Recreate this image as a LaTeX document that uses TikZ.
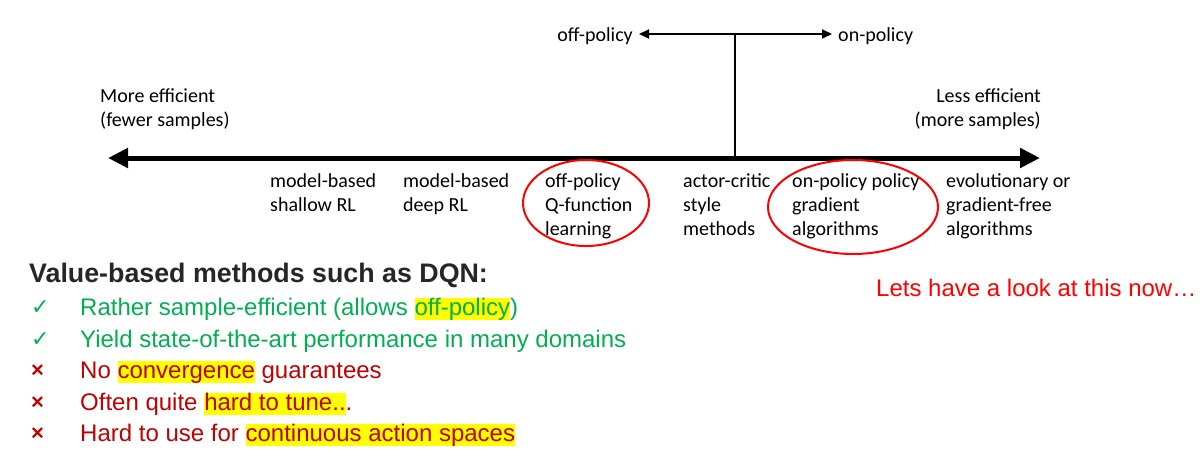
\documentclass[tikz,border=0pt]{standalone}
\usepackage{fontspec}
\usetikzlibrary{arrows.meta}
\newfontfamily\calibri{Carlito}
\newfontfamily\arial{Liberation Sans}
\newfontfamily\dejavu{DejaVu Sans}
\definecolor{okgreen}{HTML}{00B050}
\definecolor{badred}{HTML}{C00000}
\definecolor{brightred}{HTML}{FF0000}
\definecolor{hlyellow}{HTML}{FFFF00}
\definecolor{titlegray}{HTML}{262626}
\newcommand{\hlt}[1]{{\setlength{\fboxsep}{0pt}\colorbox{hlyellow}{\vphantom{Ag}#1}}}
\tikzset{
  lbl/.style={font=\calibri\fontsize{20}{24}\selectfont, anchor=base west, inner sep=0pt, align=left},
  bullettxt/.style={font=\arial\fontsize{24}{28}\selectfont, anchor=base west, inner sep=0pt},
  bulletsym/.style={anchor=base west, inner sep=0pt},
  checksym/.style={bulletsym, text=okgreen, font=\dejavu\fontsize{22}{24}\selectfont},
  crosssym/.style={bulletsym, text=badred, font=\arial\bfseries\fontsize{22}{24}\selectfont},
}
\begin{document}
\begin{tikzpicture}[x=1pt,y=-1pt]
\useasboundingbox (0,0) rectangle (1204,453);
% main axis
\coordinate (L) at (108,158);
\coordinate (R) at (1040,158);
\draw[line width=5pt, {Triangle[length=20pt,width=19pt]}-{Triangle[length=20pt,width=19pt]}] (L) -- (R);
% policy axis
\coordinate (stemtop) at (735,34);
\coordinate (stembot) at (735,156);
\draw[line width=1.8pt] (stembot) -- (stemtop);
\node[lbl, anchor=base east] (off) at (633,41) {off-policy};
\node[lbl] (on) at (838,41) {on-policy};
\coordinate (offtip) at (639,34);
\coordinate (ontip) at (832,34);
\draw[line width=2pt, {Triangle[length=10pt,width=9pt]}-{Triangle[length=10pt,width=9pt]}] (offtip) -- (ontip);
% end labels (base = last line)
\node[lbl] (more) at (100,126) {More efficient\\(fewer samples)};
\node[lbl, align=right, anchor=base east] (less) at (1041,126) {Less efficient\\(more samples)};
% categories
\node[lbl] (c1) at (270,211) {model-based\\shallow RL};
\node[lbl] (c2) at (403,211) {model-based\\deep RL};
\node[lbl] (c3) at (545,235) {off-policy\\Q-function\\learning};
\node[lbl] (c4) at (683,235) {actor-critic\\style\\methods};
\node[lbl] (c5) at (792,235) {on-policy policy\\gradient\\algorithms};
\node[lbl] (c6) at (946,235) {evolutionary or\\gradient-free\\algorithms};
% rings
\draw[draw=brightred, line width=2pt] (586,203) ellipse [x radius=63, y radius=43];
\draw[draw=brightred, line width=2pt] (853,207) ellipse [x radius=85, y radius=47];
% note
\node[bullettxt, text=brightred] (note) at (876,296) {Lets have a look at this now…};
% title
\node[anchor=base west, inner sep=0pt, font=\arial\bfseries\fontsize{26.8}{30}\selectfont, text=titlegray] (title) at (29,282) {Value-based methods such as DQN:};
% bullets
\node[checksym] (m1) at (31,314) {✓};
\node[bullettxt, text=okgreen] (b1) at (80,315) {Rather sample-efficient (allows \hlt{off-policy})};
\node[checksym] (m2) at (31,346) {✓};
\node[bullettxt, text=okgreen] (b2) at (80,347) {Yield state-of-the-art performance in many domains};
\node[crosssym] (m3) at (31,377) {×};
\node[bullettxt, text=badred] (b3) at (80,378) {No \hlt{convergence} guarantees};
\node[crosssym] (m4) at (31,409) {×};
\node[bullettxt, text=badred] (b4) at (80,410) {Often quite \hlt{hard to tune..}.};
\node[crosssym] (m5) at (31,440) {×};
\node[bullettxt, text=badred] (b5) at (80,441) {Hard to use for \hlt{continuous action spaces}};
\end{tikzpicture}
\end{document}
